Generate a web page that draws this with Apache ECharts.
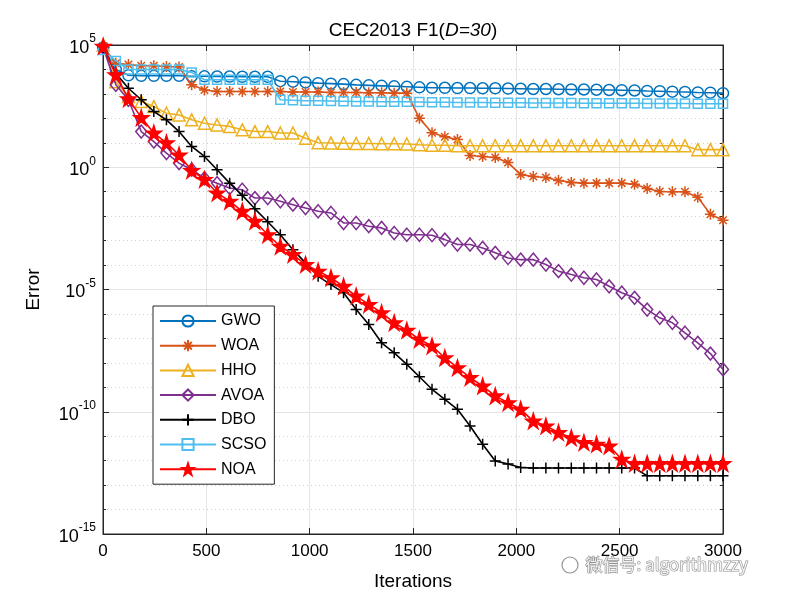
<!DOCTYPE html>
<html>
<head>
<meta charset="utf-8">
<script src="https://cdn.jsdelivr.net/npm/echarts@6/dist/echarts.min.js"></script>
<style>html,body{margin:0;padding:0;background:#fff}#c{width:800px;height:600px}</style>
</head>
<body>
<div id="c"></div>
<script>
// Iteration at which each marker is drawn
const iterations = [1, 62, 123, 185, 246, 307, 368, 429, 491, 552,
  613, 674, 735, 797, 858, 919, 980, 1041, 1103, 1164,
  1225, 1286, 1348, 1409, 1470, 1531, 1592, 1654, 1715, 1776,
  1837, 1898, 1960, 2021, 2082, 2143, 2204, 2266, 2327, 2388,
  2449, 2510, 2572, 2633, 2694, 2755, 2816, 2878, 2939, 3000];

// Error values, given as log10(Error)
const gwoLog = [4.9, 4.0, 3.76, 3.74, 3.74, 3.74, 3.74, 3.72, 3.72, 3.71,
  3.71, 3.7, 3.7, 3.7, 3.52, 3.5, 3.47, 3.44, 3.42, 3.4,
  3.37, 3.35, 3.33, 3.31, 3.29, 3.27, 3.25, 3.25, 3.24, 3.24,
  3.23, 3.23, 3.22, 3.21, 3.2, 3.2, 3.19, 3.18, 3.18, 3.17,
  3.16, 3.15, 3.14, 3.12, 3.11, 3.09, 3.08, 3.06, 3.05, 3.03];
const woaLog = [4.95, 4.25, 4.2, 4.15, 4.15, 4.12, 4.1, 3.37, 3.16, 3.1,
  3.1, 3.1, 3.1, 3.1, 3.1, 3.08, 3.08, 3.08, 3.06, 3.06,
  3.06, 3.05, 3.05, 3.03, 3.03, 2.0, 1.41, 1.25, 1.13, 0.48,
  0.44, 0.4, 0.19, -0.3, -0.38, -0.42, -0.54, -0.62, -0.65, -0.65,
  -0.65, -0.65, -0.7, -0.87, -0.99, -1.0, -1.0, -1.23, -1.92, -2.17];
const hhoLog = [5.0, 3.5, 2.89, 2.69, 2.48, 2.21, 2.14, 1.94, 1.8, 1.73,
  1.67, 1.53, 1.46, 1.46, 1.4, 1.4, 1.19, 1.0, 0.99, 0.98,
  0.97, 0.97, 0.96, 0.96, 0.95, 0.92, 0.9, 0.9, 0.88, 0.88,
  0.88, 0.88, 0.88, 0.88, 0.88, 0.88, 0.88, 0.88, 0.88, 0.88,
  0.88, 0.88, 0.88, 0.88, 0.88, 0.88, 0.88, 0.72, 0.72, 0.72];
const avoaLog = [4.9, 3.37, 2.76, 1.46, 1.05, 0.58, 0.17, -0.1, -0.45, -0.65,
  -0.85, -0.92, -1.26, -1.26, -1.39, -1.53, -1.67, -1.8, -1.87, -2.28,
  -2.28, -2.41, -2.48, -2.69, -2.76, -2.76, -2.78, -2.96, -3.16, -3.16,
  -3.3, -3.5, -3.71, -3.78, -3.78, -3.98, -4.25, -4.39, -4.52, -4.59,
  -4.87, -5.13, -5.34, -5.82, -6.16, -6.36, -6.77, -7.18, -7.62, -8.27];
const dboLog = [4.9, 3.84, 3.23, 2.76, 2.28, 1.94, 1.46, 0.85, 0.44, -0.1,
  -0.65, -1.15, -1.7, -2.23, -2.76, -3.37, -3.91, -4.46, -4.8, -5.13,
  -5.82, -6.43, -7.18, -7.59, -8.06, -8.57, -9.08, -9.49, -9.9, -10.58,
  -11.33, -12.01, -12.14, -12.28, -12.3, -12.3, -12.3, -12.3, -12.3, -12.3,
  -12.3, -12.3, -12.3, -12.62, -12.62, -12.62, -12.62, -12.62, -12.62, -12.62];
const scsoLog = [4.8, 4.35, 4.0, 4.0, 4.0, 4.0, 4.0, 3.88, 3.58, 3.58,
  3.58, 3.58, 3.58, 3.58, 2.76, 2.74, 2.72, 2.72, 2.71, 2.7,
  2.69, 2.69, 2.68, 2.68, 2.68, 2.67, 2.66, 2.66, 2.65, 2.65,
  2.65, 2.64, 2.64, 2.64, 2.63, 2.63, 2.63, 2.63, 2.62, 2.62,
  2.62, 2.62, 2.62, 2.61, 2.61, 2.61, 2.61, 2.6, 2.6, 2.6];
const noaLog = [4.95, 3.78, 2.8, 2.03, 1.4, 1.0, 0.5, -0.13, -0.5, -1.05,
  -1.39, -1.8, -2.21, -2.76, -3.23, -3.57, -3.98, -4.25, -4.52, -4.87,
  -5.27, -5.61, -5.95, -6.36, -6.67, -7.04, -7.31, -7.79, -8.2, -8.6,
  -8.95, -9.35, -9.63, -9.9, -10.38, -10.58, -10.85, -11.06, -11.26, -11.33,
  -11.4, -11.94, -12.12, -12.12, -12.12, -12.12, -12.12, -12.12, -12.12, -12.12];

const seriesNames = ['GWO', 'WOA', 'HHO', 'AVOA', 'DBO', 'SCSO', 'NOA'];
const xTicks = [0, 500, 1000, 1500, 2000, 2500, 3000];
const yTickExponents = [-15, -10, -5, 0, 5];

const FONT = 'Liberation Sans, Arial, sans-serif';
const asterisk = 'path://M5,0L5,10M0,5L10,5M1.6,1.6L8.4,8.4M8.4,1.6L1.6,8.4';
const plus = 'path://M5,0L5,10M0,5L10,5';
const star = 'path://M10,0L12.245,6.91L19.51,6.91L13.633,11.18L15.88,18.09L10,13.82L4.12,18.09L6.367,11.18L0.49,6.91L7.755,6.91Z';

function mk(name, vals, color, symbol, size, filled, z) {
  return {
    type: 'line', name: name, z: z,
    data: iterations.map((it, k) => [it, vals[k]]),
    symbol: symbol, symbolSize: size, showAllSymbol: true,
    lineStyle: { color: color, width: 1.6 },
    itemStyle: { color: filled ? color : 'rgba(255,255,255,0)', borderColor: color, borderWidth: 1.5 },
    emphasis: { disabled: true },
    animation: false
  };
}

const series = [
  mk(seriesNames[0], gwoLog, '#0072BD', 'circle', 11, false, 2),
  mk(seriesNames[1], woaLog, '#D95319', asterisk, 11, false, 3),
  mk(seriesNames[2], hhoLog, '#EDB120', 'triangle', 12, false, 4),
  mk(seriesNames[3], avoaLog, '#7E2F8E', 'diamond', [11, 13], false, 5),
  mk(seriesNames[4], dboLog, '#000000', plus, 11, false, 6),
  mk(seriesNames[5], scsoLog, '#4DBEEE', 'rect', 9, false, 7),
  mk(seriesNames[6], noaLog, '#FF0000', star, 15, true, 8)
];

const axisColor = '#262626';
const chart = echarts.init(document.getElementById('c'), null, { renderer: 'canvas' });
chart.setOption({
  animation: false,
  backgroundColor: '#fff',
  grid: { left: 103, right: 77, top: 45, bottom: 66, show: true, borderColor: axisColor, borderWidth: 1, backgroundColor: '#fff' },
  legend: {
    data: seriesNames, orient: 'vertical', left: 153, top: 306,
    itemWidth: 56, itemHeight: 14, itemGap: 8.7,
    padding: [7, 8, 7, 6],
    backgroundColor: '#fff', borderColor: axisColor, borderWidth: 1,
    textStyle: { fontFamily: FONT, fontSize: 16, color: '#000' }
  },
  xAxis: [{
    type: 'value', min: xTicks[0], max: xTicks[xTicks.length - 1], interval: 500,
    name: 'Iterations', nameLocation: 'middle', nameGap: 38,
    nameTextStyle: { fontFamily: FONT, fontSize: 19, color: '#000' },
    axisLine: { show: true, onZero: false, lineStyle: { color: axisColor } },
    axisTick: { inside: true, length: 6, lineStyle: { color: axisColor } },
    axisLabel: { fontFamily: FONT, fontSize: 17, color: '#000', margin: 9, formatter: function (v) { return String(v); } },
    splitLine: { show: true, lineStyle: { color: '#e4e4e4', width: 1 } }
  }, {
    type: 'value', position: 'top', min: 0, max: 3000, interval: 500,
    axisLine: { show: true, onZero: false, lineStyle: { color: axisColor } },
    axisTick: { inside: true, length: 6, lineStyle: { color: axisColor } },
    axisLabel: { show: false }, splitLine: { show: false }
  }],
  yAxis: [{
    type: 'value', min: yTickExponents[0], max: yTickExponents[yTickExponents.length - 1], interval: 5,
    name: 'Error', nameLocation: 'middle', nameGap: 60,
    nameTextStyle: { fontFamily: FONT, fontSize: 19, color: '#000' },
    axisLine: { show: true, onZero: false, lineStyle: { color: axisColor } },
    axisTick: { inside: true, length: 6, lineStyle: { color: axisColor } },
    minorTick: { show: true, splitNumber: 5, length: 3, lineStyle: { color: axisColor } },
    axisLabel: {
      margin: 7, color: '#000',
      formatter: function (v) { return '{b|10}{s|' + v + '}'; },
      rich: {
        b: { fontFamily: FONT, fontSize: 18, color: '#000', lineHeight: 24, verticalAlign: 'bottom' },
        s: { fontFamily: FONT, fontSize: 12, color: '#000', lineHeight: 15, verticalAlign: 'top' }
      }
    },
    splitLine: { show: true, lineStyle: { color: '#e4e4e4', width: 1 } },
    minorSplitLine: { show: true, lineStyle: { color: '#cfcfcf', type: [1, 3], width: 1 } }
  }, {
    type: 'value', position: 'right', min: -15, max: 5, interval: 5,
    axisLine: { show: true, onZero: false, lineStyle: { color: axisColor } },
    axisTick: { inside: true, length: 6, lineStyle: { color: axisColor } },
    minorTick: { show: true, splitNumber: 5, length: 3, lineStyle: { color: axisColor } },
    axisLabel: { show: false }, splitLine: { show: false }
  }],
  series: series,
  graphic: [{
    type: 'text', x: 413, y: 31, z: 100,
    style: {
      text: '{a|CEC2013 F1(}{i|D=30}{a|)}', textAlign: 'center', textVerticalAlign: 'middle',
      align: 'center', verticalAlign: 'middle',
      rich: {
        a: { fontFamily: FONT, fontSize: 19, fill: '#000' },
        i: { fontFamily: FONT, fontSize: 19, fontStyle: 'italic', fill: '#000' }
      }
    }
  }, {
    type: 'text', left: 585, top: 555, z: 100,
    style: {
      text: '微信号: algorithmzzy', fontFamily: 'Noto Sans CJK SC, sans-serif', fontSize: 17,
      fill: 'rgba(255,255,255,0.85)', stroke: 'rgba(110,110,110,0.75)', lineWidth: 1.2
    }
  }, {
    type: 'circle', shape: { cx: 570, cy: 565, r: 8 }, z: 100,
    style: { fill: 'rgba(255,255,255,0.8)', stroke: 'rgba(110,110,110,0.75)', lineWidth: 1.2 }
  }]
});
</script>
</body>
</html>
